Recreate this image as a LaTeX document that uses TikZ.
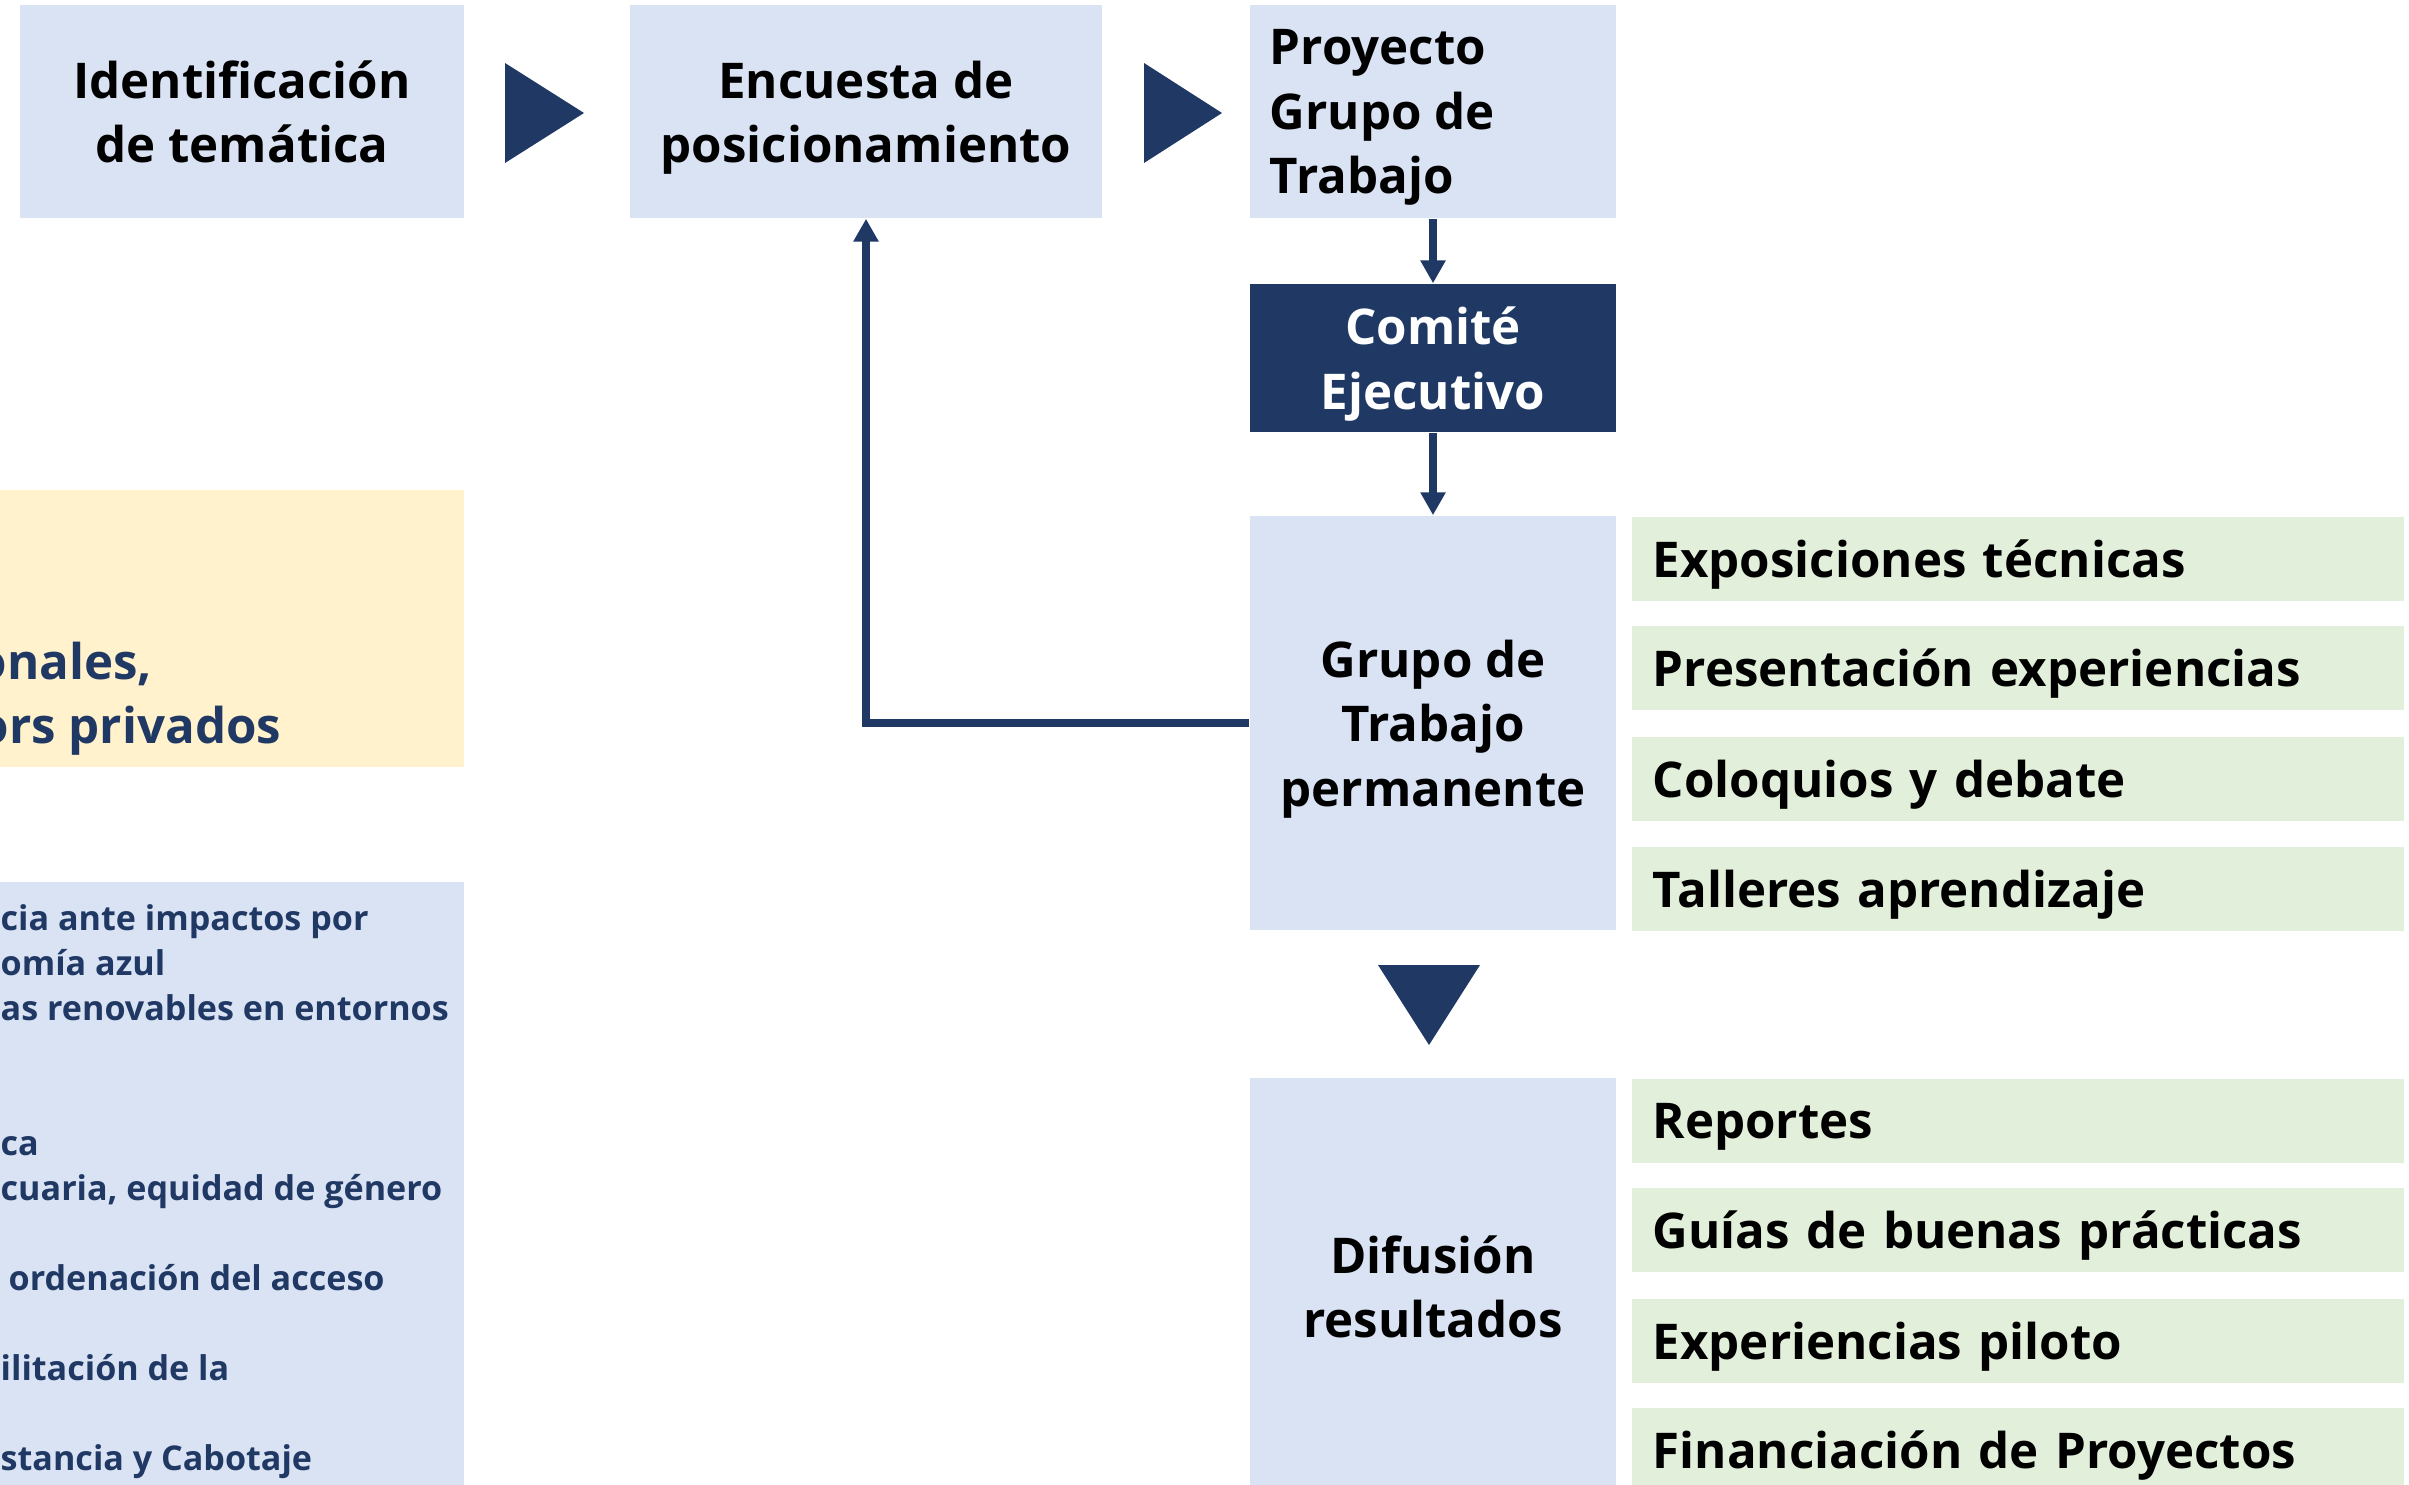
\documentclass[tikz,border=0pt]{standalone}
\usepackage{fontspec}
\setmainfont{Open Sans}
\usetikzlibrary{arrows.meta}
\definecolor{lblue}{HTML}{DAE3F3}
\definecolor{lgreen}{HTML}{E2EFDA}
\definecolor{lyellow}{HTML}{FFF2CC}
\definecolor{navy}{HTML}{203864}
\newcommand{\lline}[1]{\makebox[3.26cm][l]{#1}}
\tikzset{
  bigtxt/.style={font=\fontsize{14}{18.3}\selectfont\bfseries},
  bluebox/.style={fill=lblue, inner sep=0pt, bigtxt, align=center, text depth=0pt},
  greenbox/.style={fill=lgreen, minimum width=7.72cm, minimum height=0.84cm, inner xsep=0.21cm, inner ysep=0pt, text width=7.30cm, align=left, bigtxt, text depth=0pt, anchor=north west},
  navybox/.style={fill=navy, text=white, inner sep=0pt, bigtxt, align=center, text depth=0pt},
  sidetxt/.style={text=navy, font=\fontsize{9.7}{12.8}\selectfont\bfseries, anchor=base west, inner sep=0pt},
  yeltxt/.style={text=navy, bigtxt, anchor=base west, inner sep=0pt},
  conn/.style={draw=navy, line width=2.1pt, -{Triangle[width=6.8pt,length=6.5pt]}},
  tri/.style={fill=navy}
}
\begin{document}
\begin{tikzpicture}[x=0.01cm,y=-0.01cm]
\useasboundingbox (0,0) rectangle (2409,1485);
\clip (0,0) rectangle (2409,1485);

% top row
\node[bluebox, minimum width=4.44cm, minimum height=2.13cm] (ident) at (242,111.5) {Identificación\\de temática};
\node[bluebox, minimum width=4.72cm, minimum height=2.13cm] (encu) at (866,111.5) {Encuesta de\\posicionamiento};
\node[bluebox, minimum width=3.66cm, minimum height=2.13cm, align=left] (proy) at (1433,111.5) {\lline{Proyecto}\\\lline{Grupo de}\\\lline{Trabajo}};

% triangles
\fill[tri] (505,63) -- (584,113) -- (505,163) -- cycle;
\fill[tri] (1144,63) -- (1222,113) -- (1144,163) -- cycle;
\fill[tri] (1378,965) -- (1480,965) -- (1429,1045) -- cycle;

% committee and groups
\node[navybox, minimum width=3.66cm, minimum height=1.48cm] (comite) at (1433,358) {Comité\\Ejecutivo};
\node[bluebox, minimum width=3.66cm, minimum height=4.14cm] (grupo) at (1433,723) {Grupo de\\Trabajo\\permanente};
\node[bluebox, minimum width=3.66cm, minimum height=4.17cm] (difu) at (1433,1286.5) {Difusión\\resultados};

% green boxes
\node[greenbox] (g1) at (1631,516) {Exposiciones técnicas};
\node[greenbox] (g2) at (1631,625) {Presentación experiencias};
\node[greenbox] (g3) at (1631,736) {Coloquios y debate};
\node[greenbox] (g4) at (1631,846) {Talleres aprendizaje};
\node[greenbox] (h1) at (1631,1078) {Reportes};
\node[greenbox] (h2) at (1631,1187) {Guías de buenas prácticas};
\node[greenbox] (h3) at (1631,1298) {Experiencias piloto};
\node[greenbox] (h4) at (1631,1407) {Financiación de Proyectos};

% left boxes
\node[fill=lyellow, inner sep=0pt, minimum width=4.84cm, minimum height=2.77cm] (yel) at (222,628.5) {};
\node[fill=lblue, inner sep=0pt, minimum width=4.84cm, minimum height=6.18cm] (lbl) at (222,1191) {};

\node[yeltxt] (y1) at (-24,679) {onales,};
\node[yeltxt] (y2) at (-22,743) {ors privados};

\node[sidetxt] (s1) at (0,930) {cia ante impactos por};
\node[sidetxt] (s2) at (0,975) {omía azul};
\node[sidetxt] (s3) at (0,1020) {as renovables en entornos};
\node[sidetxt] (s4) at (0,1155) {ca};
\node[sidetxt] (s5) at (0,1200) {cuaria, equidad de género};
\node[sidetxt] (s6) at (8,1290) {ordenación del acceso};
\node[sidetxt] (s7) at (0,1380) {ilitación de la};
\node[sidetxt] (s8) at (0,1470) {stancia y Cabotaje};

% connectors
\draw[conn] (proy.south) -- (comite.north);
\draw[conn] (comite.south) -- (grupo.north);
\draw[conn] (grupo.west) -| (encu.south);
\end{tikzpicture}
\end{document}
